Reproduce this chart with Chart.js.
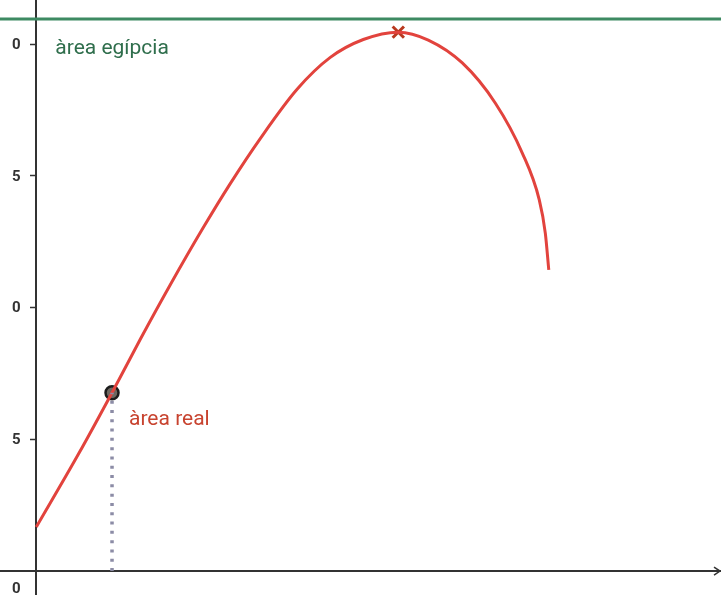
<!DOCTYPE html>
<html><head><meta charset="utf-8">
<script src="https://cdn.jsdelivr.net/npm/chart.js@4.4.0/dist/chart.umd.min.js"></script>
<style>html,body{margin:0;padding:0;background:#fff}#wrap{width:721px;height:595px;position:relative}</style>
</head><body>
<div id="wrap"><canvas id="myChart"></canvas></div>
<script>
// curve "àrea real"
var curveX = [0, 0.618, 1.106, 1.519, 1.957, 2.439, 2.833, 3.271, 3.812, 4.294, 4.776, 5.287, 5.725, 6.222, 6.703, 7.098, 7.346, 7.434, 7.485];
var curveY = [1.67, 4.45, 6.77, 8.80, 10.87, 13.04, 14.71, 16.42, 18.30, 19.50, 20.18, 20.46, 20.16, 19.29, 17.77, 15.87, 14.09, 12.83, 11.43];
var realPoint = [1.106, 6.77];
var peakPoint = [5.287, 20.46];
var egyptLevel = 20.96;
var yTickValues = [5, 10, 15, 20];
var yTickLabels = ['5', '0', '5', '0'];
var xRange = [-0.53, 10];
var yRange = [-0.91, 21.68];

var curve = curveX.map(function (x, i) { return {x: x, y: curveY[i]}; });

function noPad(s) {
  s.paddingTop = 0; s.paddingBottom = 0; s.paddingLeft = 0; s.paddingRight = 0;
}

var annot = {
  id: 'annot',
  afterDraw: function (chart) {
    var c = chart.ctx, xs = chart.scales.x, ys = chart.scales.y;
    var ox = xs.getPixelForValue(0), oy = ys.getPixelForValue(0);
    c.save();
    c.textBaseline = 'middle';
    // y tick labels, placed left of the axis
    c.font = 'bold 15px Roboto';
    c.fillStyle = '#333';
    c.textAlign = 'center';
    yTickValues.forEach(function (v, i) {
      c.fillText(yTickLabels[i], ox - 20, ys.getPixelForValue(v) + 1);
    });
    c.fillText('0', ox - 20, oy + 18);
    // text labels
    c.textAlign = 'left';
    c.font = '21px Roboto';
    c.fillStyle = '#2f6e4c';
    c.fillText('àrea egípcia', ox + 19, ys.getPixelForValue(egyptLevel) + 30);
    c.fillStyle = '#c8432f';
    c.fillText('àrea real', xs.getPixelForValue(realPoint[0]) + 17, ys.getPixelForValue(realPoint[1]) + 27);
    // arrow at end of x axis
    var ex = xs.right - 1;
    c.strokeStyle = '#333';
    c.lineWidth = 1.5;
    c.beginPath();
    c.moveTo(ex - 6, oy - 4); c.lineTo(ex, oy); c.lineTo(ex - 6, oy + 4);
    c.stroke();
    c.restore();
  }
};

new Chart(document.getElementById('myChart'), {
  type: 'scatter',
  data: {
    datasets: [
      {
        data: [{x: xRange[0], y: egyptLevel}, {x: xRange[1], y: egyptLevel}],
        showLine: true, borderColor: '#3d8a62', borderWidth: 3, pointRadius: 0
      },
      {
        data: [{x: realPoint[0], y: 0}, {x: realPoint[0], y: realPoint[1]}],
        showLine: true, borderColor: '#8c8ca6', borderWidth: 3.5, borderDash: [3, 6.3],
        borderCapStyle: 'butt', pointRadius: 0
      },
      {
        data: curve, showLine: true, borderColor: '#e2433d', borderWidth: 3,
        cubicInterpolationMode: 'monotone', pointRadius: 0
      },
      {
        data: [{x: peakPoint[0], y: peakPoint[1]}],
        pointStyle: 'crossRot', pointRadius: 8, borderColor: '#b9391f', borderWidth: 3
      },
      {
        data: [{x: realPoint[0], y: realPoint[1]}],
        pointRadius: 6.5, backgroundColor: '#6e6760', borderColor: '#1c1c1c', borderWidth: 2.5
      }
    ]
  },
  options: {
    responsive: true,
    maintainAspectRatio: false,
    animation: false,
    layout: {padding: 0, autoPadding: false},
    plugins: {legend: {display: false}, tooltip: {enabled: false}},
    scales: {
      x: {
        type: 'linear', min: xRange[0], max: xRange[1], position: {y: 0},
        afterBuildTicks: function (s) { s.ticks = []; },
        afterFit: function (s) { s.height = 0; noPad(s); },
        grid: {drawOnChartArea: false, drawTicks: false},
        border: {color: '#333', width: 2},
        ticks: {display: false}
      },
      y: {
        type: 'linear', min: yRange[0], max: yRange[1], position: {x: 0},
        afterBuildTicks: function (s) { s.ticks = yTickValues.map(function (v) { return {value: v}; }); },
        afterFit: function (s) { s.width = 0; noPad(s); },
        grid: {drawOnChartArea: false, drawTicks: true, tickLength: 5, color: '#333', tickWidth: 1.5},
        border: {color: '#333', width: 2},
        ticks: {display: false}
      }
    }
  },
  plugins: [annot]
});
</script>
</body></html>
